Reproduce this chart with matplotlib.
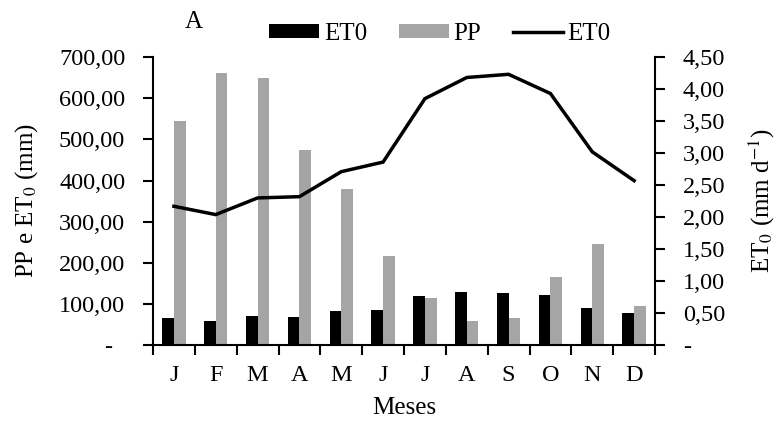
import matplotlib
matplotlib.use("Agg")
import matplotlib.pyplot as plt
from matplotlib.ticker import FuncFormatter, FixedLocator
from matplotlib.patches import Patch
from matplotlib.lines import Line2D
import numpy as np

months = ["J", "F", "M", "A", "M", "J", "J", "A", "S", "O", "N", "D"]
et0_month_mm = [67, 58, 70, 69, 83, 86, 119, 129, 126, 121, 90, 79]
pp_mm = [544, 660, 649, 474, 379, 218, 114, 59, 67, 167, 246, 96]
et0_daily = [2.17, 2.04, 2.30, 2.32, 2.71, 2.86, 3.85, 4.18, 4.23, 3.93, 3.02, 2.57]
left_ticks = [0, 100, 200, 300, 400, 500, 600, 700]
right_ticks = [0, 0.5, 1.0, 1.5, 2.0, 2.5, 3.0, 3.5, 4.0, 4.5]

plt.rcParams['font.family'] = ['Liberation Serif', 'DejaVu Serif']
plt.rcParams['mathtext.fontset'] = 'stix'
FS = 17.5
LFS = 18

W, H = 779, 421
fig = plt.figure(figsize=(W / 100, H / 100), dpi=100)
ax = fig.add_axes([153 / W, 1 - 345.3 / H, (655 - 153) / W, (345.3 - 57) / H])
ax2 = ax.twinx()

x = np.arange(len(months))
bw = 0.28
ax.bar(x - bw / 2, et0_month_mm, width=bw, color='black', zorder=2)
ax.bar(x + bw / 2, pp_mm, width=bw, color='#A5A5A5', zorder=2)
ax2.plot(x, et0_daily, color='black', lw=2.5, solid_joinstyle='miter', zorder=3)

ax.set_xlim(-0.5, len(months) - 0.5)
ax.set_ylim(0, 700)
ax2.set_ylim(0, 4.5)

def lfmt(v, pos):
    if abs(v) < 1e-9:
        return "-  "
    return f"{v:.2f}".replace(".", ",")

def rfmt(v, pos):
    if abs(v) < 1e-9:
        return "-"
    return f"{v:.2f}".replace(".", ",")

ax.yaxis.set_major_locator(FixedLocator(left_ticks))
ax.yaxis.set_major_formatter(FuncFormatter(lfmt))
ax2.yaxis.set_major_locator(FixedLocator(right_ticks))
ax2.yaxis.set_major_formatter(FuncFormatter(rfmt))

ax.set_xticks(np.arange(-0.5, len(months), 1.0))
ax.set_xticklabels([])
ax.set_xticks(x, minor=True)
ax.set_xticklabels(months, minor=True)
ax.tick_params(axis='x', which='major', direction='out', length=7, width=1.5)
ax.tick_params(axis='x', which='minor', length=0, pad=14, labelsize=FS)
ax.tick_params(axis='y', direction='out', length=7, width=1.5, pad=13, labelsize=FS)
ax2.tick_params(axis='y', direction='out', length=7, width=1.5, pad=13, labelsize=FS)

for a in (ax, ax2):
    a.spines['top'].set_visible(False)
    for s in ('left', 'right', 'bottom'):
        a.spines[s].set_linewidth(1.5)
ax.spines['right'].set_visible(False)
ax2.spines['left'].set_visible(False)
ax2.spines['bottom'].set_visible(False)

fig.text(27 / W, 1 - 201 / H, "PP e ET$_0$ (mm)", rotation=90, ha='center', va='center', fontsize=LFS)
fig.text(762 / W, 1 - 201 / H, "ET$_0$ (mm d$^{-1}$)", rotation=90, ha='center', va='center', fontsize=LFS)
fig.text(404 / W, 1 - 408 / H, "Meses", ha='center', va='center', fontsize=LFS)
fig.text(194 / W, 1 - 22 / H, "A", ha='center', va='center', fontsize=LFS)

handles = [Patch(facecolor='black', edgecolor='none'),
           Patch(facecolor='#A5A5A5', edgecolor='none'),
           Line2D([0], [0], color='black', lw=2.5)]
fig.legend(handles, ["ET0", "PP", "ET0"], loc='center', bbox_to_anchor=(440 / W, 1 - 34 / H),
           ncol=3, frameon=False, fontsize=LFS, handlelength=2.0, handleheight=0.45,
           handletextpad=0.2, columnspacing=1.25, borderaxespad=0, borderpad=0)

fig.savefig("out.png", dpi=100)
